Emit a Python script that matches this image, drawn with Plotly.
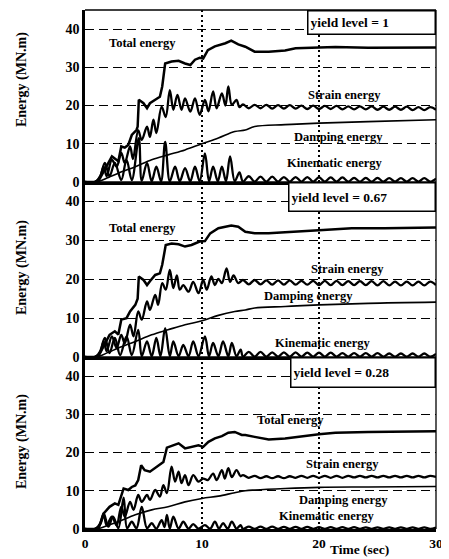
import numpy as np
import plotly.graph_objects as go
from plotly.subplots import make_subplots

# ---------------- data ----------------
YIELD_LABELS = ["yield level = 1", "yield level = 0.67", "yield level = 0.28"]
X_TICKS = [0, 10, 20, 30]
Y_TICKS = [0, 10, 20, 30, 40]

# late-time sampling grid for the small residual oscillations (every 0.5 s)
T_LATE = list(np.arange(13.5, 30.01, 0.5))

# ---- panel 1 : yield level = 1
TOTAL1_T = [0, 0.8, 1.2, 1.7, 2.0, 2.3, 2.6, 2.85, 3.1, 3.4, 3.7, 4.0, 4.4, 4.5, 4.6, 5.0, 5.3, 5.55, 6.0, 6.4,
            6.6, 6.85, 7.4, 8.0, 8.55, 9.0, 9.4, 9.8, 10.1, 10.5, 11.1, 12.0, 12.5, 13.1, 13.7, 14.5, 15.7, 17.1, 18.0, 19.1,
            20, 21.4, 24.2, 27, 30]
TOTAL1_V = [0, 0, 0.5, 3.2, 5.0, 6.7, 6.0, 5.4, 9.3, 9.0, 9.7, 12.3, 13.6, 14.5, 21.5, 20.6, 19.3, 20.6, 21.5, 22.3,
            25, 31, 31.5, 31.7, 31, 30.6, 32, 32.5, 32.3, 34.5, 35.5, 36.3, 37, 36, 35.4, 34.1, 34.1, 34.4, 35, 35.1,
            35.1, 35.3, 35.1, 35.2, 35.2]
STRAIN1_T = [0, 0.9, 1.3, 1.6, 1.85, 2.3, 2.7, 3.1, 3.4, 3.85, 4.1, 4.55, 4.85, 5.3, 5.55, 5.85, 6.1, 6.55, 6.9, 7.25,
             7.55, 7.9, 8.25, 8.55, 9.0, 9.4, 9.8, 10.25, 10.55, 10.95, 11.25, 11.7, 12.0, 12.25, 12.55, 12.95, 13.2]
STRAIN1_V = [0, 0, 1.5, 4.0, 1.5, 5.8, 4.0, 7.6, 5.0, 9.3, 6.0, 13.5, 11.0, 14.5, 11.8, 16.3, 12.8, 19.7, 17.0, 24.0,
             18.9, 22.8, 18.9, 21.9, 18.4, 21.9, 17.6, 21.5, 18.5, 23.7, 19.3, 23.2, 20.0, 25.0, 20.2, 21.5, 19.6]
STRAIN1_LATE = [20.3, 19.3, 20.2, 19.3, 20.2, 19.2, 20.1, 19.2, 20.1, 19.2, 20.0, 19.1, 20.0, 19.1, 19.9, 19.1, 19.9,
                19.0, 19.8, 19.0, 19.8, 19.0, 19.8, 18.9, 19.7, 18.9, 19.7, 18.9, 19.7, 18.8, 19.6, 18.8, 19.6, 18.9]
DAMP1_T = [0, 1.0, 2.0, 2.85, 4.3, 5.7, 7.1, 8.55, 10, 11.4, 12.8, 13.7, 14.5, 17.1, 20, 24.2, 30]
DAMP1_V = [0, 0, 1.2, 2.3, 4.0, 5.8, 7.1, 8.4, 10.0, 11.5, 13.2, 13.6, 14.5, 15.0, 15.4, 15.8, 16.3]
KIN1_T = [0, 0.9, 1.3, 1.7, 2.1, 2.55, 3.1, 3.55, 4.0, 4.6, 4.85, 5.3, 5.7, 6.1, 6.5, 6.85, 7.25, 7.7, 8.1, 8.55,
          9.0, 9.4, 9.8, 10.25, 10.6, 10.95, 11.35, 11.7, 12.05, 12.4, 12.8, 13.2]
KIN1_V = [0, 0, 1.5, 5.0, 1.5, 5.0, 0.5, 5.8, 0.5, 11.5, 0.3, 5.0, 0.2, 4.0, 0.2, 10.5, 0.2, 4.0, 0.2, 3.6,
          0.2, 4.0, 0.2, 7.5, 0.2, 4.0, 0.2, 4.0, 0.2, 6.7, 0.2, 2.5]
KIN1_LATE = [0.1, 1.5, 0.1, 1.4, 0.1, 1.4, 0.1, 1.3, 0.1, 1.3, 0.1, 1.3, 0.1, 1.2, 0.1, 1.2, 0.1,
             1.2, 0.1, 1.1, 0.1, 1.1, 0.1, 1.1, 0.1, 1.0, 0.1, 1.0, 0.1, 1.0, 0.1, 1.0, 0.1, 0.9]

# ---- panel 2 : yield level = 0.67
TOTAL2_T = [0, 0.8, 1.2, 1.7, 2.1, 2.55, 2.85, 3.1, 3.55, 3.85, 4.3, 4.5, 4.6, 5.0, 5.3, 5.55, 6.0, 6.4, 6.6, 6.9,
            7.4, 8.0, 8.55, 9.1, 9.8, 10.25, 10.7, 11.4, 12.0, 12.5, 13.1, 13.7, 14.5, 15.7, 17.1, 18.5, 20, 22.8, 25.6, 30]
TOTAL2_V = [0, 0, 0.5, 3.6, 5.7, 6.6, 5.8, 9.6, 10.0, 11.7, 13.4, 15.0, 20.7, 19.8, 18.5, 19.5, 21.1, 21.5, 23.7, 28.8,
            29.2, 29.0, 28.4, 28.8, 29.7, 29.8, 31.8, 33.1, 33.5, 33.8, 33.5, 32.2, 31.8, 31.8, 32.1, 32.4, 32.6, 33.1, 33.1, 33.3]
STRAIN2_T = [0, 0.9, 1.3, 1.6, 1.85, 2.3, 2.7, 3.1, 3.4, 3.85, 4.15, 4.55, 4.85, 5.3, 5.55, 6.0, 6.25, 6.6, 6.9, 7.25,
             7.55, 7.85, 8.1, 8.4, 8.85, 9.25, 9.7, 10.1, 10.4, 10.8, 11.1, 11.4, 11.7, 12.1, 12.4, 12.7, 13.1]
STRAIN2_V = [0, 0, 1.2, 4.0, 1.5, 5.3, 2.3, 5.7, 3.5, 8.3, 5.3, 11.7, 9.6, 14.3, 12.1, 16.0, 13.4, 19.0, 17.3, 22.4,
             17.7, 21.0, 17.3, 18.5, 16.8, 19.3, 16.4, 19.8, 17.3, 20.7, 18.5, 20.1, 19.0, 22.8, 19.3, 21.0, 19.0]
STRAIN2_LATE = [19.8, 18.7, 19.8, 18.7, 19.7, 18.6, 19.7, 18.6, 19.7, 18.6, 19.6, 18.6, 19.6, 18.5, 19.6, 18.5, 19.6,
                18.5, 19.5, 18.5, 19.5, 18.5, 19.5, 18.4, 19.5, 18.4, 19.4, 18.4, 19.4, 18.4, 19.4, 18.4, 19.4, 18.5]
DAMP2_T = [0, 1.0, 2.0, 2.85, 4.3, 5.7, 7.1, 8.55, 10, 11.4, 12.8, 13.7, 14.5, 17.1, 20, 24.2, 30]
DAMP2_V = [0, 0, 1.2, 2.3, 4.0, 5.7, 7.0, 8.3, 9.3, 10.7, 11.7, 12.1, 12.6, 13.0, 13.4, 13.8, 14.1]
KIN2_T = [0, 0.9, 1.3, 1.7, 2.1, 2.55, 3.0, 3.55, 4.0, 4.55, 4.85, 5.3, 5.7, 6.1, 6.45, 6.85, 7.25, 7.55, 8.0, 8.4,
          8.85, 9.25, 9.7, 10.25, 10.6, 10.95, 11.4, 11.8, 12.25, 12.55, 12.95, 13.3]
KIN2_V = [0, 0, 1.5, 4.9, 1.0, 4.9, 0.5, 5.3, 0.5, 7.0, 0.2, 4.0, 0.2, 4.9, 0.2, 7.4, 0.2, 4.0, 0.2, 3.1,
          0.2, 4.0, 0.2, 5.3, 0.2, 3.6, 0.2, 4.0, 0.2, 3.6, 0.2, 1.9]
KIN2_LATE = [0.1, 1.3, 0.1, 1.3, 0.1, 1.2, 0.1, 1.2, 0.1, 1.2, 0.1, 1.1, 0.1, 1.1, 0.1, 1.1, 0.1,
             1.0, 0.1, 1.0, 0.1, 1.0, 0.1, 1.0, 0.1, 0.9, 0.1, 0.9, 0.1, 0.9, 0.1, 0.9, 0.1, 0.8]

# ---- panel 3 : yield level = 0.28
TOTAL3_T = [0, 0.8, 1.2, 1.6, 2.1, 2.55, 2.85, 3.3, 3.7, 4.0, 4.3, 4.55, 4.8, 5.1, 5.55, 6.0, 6.4, 6.7, 7.0, 7.4,
            8.0, 8.55, 9.1, 9.7, 10.1, 10.55, 11.1, 11.7, 12.25, 12.8, 13.4, 13.7, 14.5, 15.7, 17.1, 18.5, 20, 21.4, 24.2, 30]
TOTAL3_V = [0, 0, 0.5, 4.1, 5.8, 6.7, 6.3, 10.6, 10.2, 11.0, 11.4, 12.8, 16.7, 15.4, 15.0, 15.9, 16.7, 17.5, 21.3, 21.7,
            22.4, 21.1, 21.5, 21.9, 21.5, 22.8, 23.7, 24.3, 25.2, 25.4, 24.6, 24.6, 24.1, 23.4, 23.7, 24.3, 24.8, 25.2, 25.4, 25.6]
STRAIN3_T = [0, 0.9, 1.3, 1.6, 1.85, 2.3, 2.7, 3.1, 3.4, 3.85, 4.15, 4.55, 4.85, 5.3, 5.55, 6.0, 6.4, 6.7, 7.0, 7.4,
             7.7, 8.0, 8.25, 8.55, 8.85, 9.25, 9.7, 10.1, 10.5, 10.95, 11.25, 11.7, 11.95, 12.25, 12.55, 12.95, 13.3]
STRAIN3_V = [0, 0, 1.2, 3.7, 1.0, 3.2, 1.0, 5.8, 3.2, 7.1, 5.0, 8.9, 7.1, 8.9, 7.6, 10.2, 8.5, 11.5, 9.4, 16.3,
             12.4, 15.0, 12.0, 14.1, 11.5, 14.1, 12.4, 13.2, 12.8, 14.5, 12.8, 15.4, 13.2, 15.9, 13.6, 15.4, 13.8]
STRAIN3_LATE = [14.1, 13.4, 13.9, 13.3, 13.8, 13.3, 13.8, 13.3, 13.8, 13.4, 13.9, 13.4, 13.9, 13.4, 13.9, 13.4, 13.9,
                13.4, 13.9, 13.5, 13.9, 13.5, 13.9, 13.5, 13.9, 13.5, 13.9, 13.5, 13.9, 13.5, 13.9, 13.5, 13.9, 13.6]
DAMP3_T = [0, 1.0, 2.0, 2.85, 4.3, 5.7, 7.1, 8.55, 10, 11.4, 12.8, 13.7, 14.5, 17.1, 20, 24.2, 30]
DAMP3_V = [0, 0, 1.0, 1.9, 3.7, 5.0, 5.8, 7.1, 8.0, 8.6, 9.5, 10.0, 10.2, 10.6, 10.9, 11.0, 11.1]
KIN3_T = [0, 0.9, 1.3, 1.6, 2.0, 2.4, 2.85, 3.3, 3.6, 4.0, 4.4, 4.85, 5.3, 5.7, 6.1, 6.55, 6.8, 7.0, 7.25, 7.55,
          8.0, 8.4, 8.85, 9.25, 9.7, 10.25, 10.7, 11.1, 11.45, 11.8, 12.2, 12.55, 12.95, 13.3]
KIN3_V = [0, 0, 1.5, 4.1, 0.6, 3.2, 0.2, 8.2, 0.2, 1.9, 0.2, 5.8, 0.2, 1.5, 0.1, 2.3, 0.5, 3.7, 0.1, 3.2,
          0.1, 1.9, 0.1, 1.3, 0.1, 1.0, 0.1, 1.9, 0.1, 1.5, 0.1, 1.9, 0.1, 1.0]
KIN3_LATE = [0.05, 0.6, 0.05, 0.6, 0.05, 0.6, 0.05, 0.55, 0.05, 0.55, 0.05, 0.55, 0.05, 0.5, 0.05, 0.5, 0.05,
             0.5, 0.05, 0.5, 0.05, 0.45, 0.05, 0.45, 0.05, 0.45, 0.05, 0.45, 0.05, 0.4, 0.05, 0.4, 0.05, 0.4]

# in-panel curve labels: (text, time, energy)
LABELS = [
    [("Total energy", 4.9, 36.4), ("Strain energy", 22.2, 22.8), ("Damping energy", 21.7, 11.8), ("Kinematic energy", 21.4, 5.0)],
    [("Total energy", 4.9, 33.1), ("Strain energy", 22.4, 22.6), ("Damping energy", 19.1, 15.6), ("Kinematic energy", 20.3, 3.6)],
    [("Total energy", 17.6, 28.4), ("Strain energy", 22.05, 17.1), ("Damping energy", 22.1, 7.6), ("Kinematic energy", 20.7, 3.4)],
]

PANELS = [
    dict(total=(TOTAL1_T, TOTAL1_V), strain=(STRAIN1_T + T_LATE, STRAIN1_V + STRAIN1_LATE),
         damp=(DAMP1_T, DAMP1_V), kin=(KIN1_T + T_LATE, KIN1_V + KIN1_LATE)),
    dict(total=(TOTAL2_T, TOTAL2_V), strain=(STRAIN2_T + T_LATE, STRAIN2_V + STRAIN2_LATE),
         damp=(DAMP2_T, DAMP2_V), kin=(KIN2_T + T_LATE, KIN2_V + KIN2_LATE)),
    dict(total=(TOTAL3_T, TOTAL3_V), strain=(STRAIN3_T + T_LATE, STRAIN3_V + STRAIN3_LATE),
         damp=(DAMP3_T, DAMP3_V), kin=(KIN3_T + T_LATE, KIN3_V + KIN3_LATE)),
]

# ---------------- figure ----------------
SERIF = "Liberation Serif"
# the page body has an 8px margin, so the figure is shrunk/offset to land where the reference is
W, H = 441, 551
ML, MR, MT, MB = 77, 13, 2, 30
PW, PH = W - ML - MR, H - MT - MB  # 351 x 519
PLOT_LEFT, PLOT_TOP = 85, 10       # page pixels of the plot area's corner

fig = make_subplots(rows=3, cols=1, shared_xaxes=True, vertical_spacing=0,
                    row_heights=[172, 175, 172])

TITLE_CENTERS = [80, 268, 442]   # page y of each "Energy (MN.m)" title

for i, p in enumerate(PANELS):
    row = i + 1
    for key, width, shape in [("damp", 1.6, "spline"), ("kin", 2.3, "spline"),
                              ("strain", 2.3, "spline"), ("total", 2.5, "linear")]:
        t, v = p[key]
        fig.add_trace(go.Scatter(x=t, y=v, mode="lines", showlegend=False,
                                 line=dict(color="black", width=width, shape=shape,
                                           smoothing=1.0 if shape == "spline" else None)),
                      row=row, col=1)
    sfx = "" if row == 1 else str(row)
    for text, tx, ty in LABELS[i]:
        fig.add_annotation(x=tx, y=ty, xref="x" + sfx, yref="y" + sfx, text="<b>" + text + "</b>",
                           xanchor="center", yanchor="middle",
                           showarrow=False, font=dict(family=SERIF, size=12.5, color="black"))
    # yield-level box
    widths = [122, 141, 139]
    heights = [18, 23, 24]
    fig.add_annotation(x=1, y=1, xref="x" + sfx + " domain", yref="y" + sfx + " domain",
                       xanchor="right", yanchor="top", text="<b>" + YIELD_LABELS[i] + "</b>",
                       showarrow=False, align="left", width=widths[i], height=heights[i],
                       bgcolor="white", bordercolor="black", borderwidth=1.5, borderpad=2,
                       font=dict(family=SERIF, size=13.5, color="black"))
    # thin top and right frame lines
    fig.add_shape(type="line", xref="x" + sfx + " domain", yref="y" + sfx + " domain",
                  x0=1, x1=1, y0=0, y1=1, line=dict(color="black", width=1.3))
    fig.add_shape(type="line", xref="x" + sfx + " domain", yref="y" + sfx + " domain",
                  x0=0, x1=1, y0=1, y1=1, line=dict(color="black", width=1.3))
    # y-axis title
    fig.add_annotation(x=(22 - PLOT_LEFT) / PW, y=1 - (TITLE_CENTERS[i] - PLOT_TOP) / PH,
                       xref="paper", yref="paper", xanchor="center", yanchor="middle",
                       text="<b>Energy (MN.m)</b>", textangle=-90, showarrow=False,
                       font=dict(family=SERIF, size=14, color="black"))

fig.update_yaxes(range=[0, 45], tickvals=Y_TICKS, showline=True, linecolor="black", linewidth=2.5,
                 ticks="", showgrid=True, gridcolor="black", gridwidth=1, griddash="9px,5px",
                 zeroline=False, tickfont=dict(family=SERIF, size=14, color="black", weight="bold"))
fig.update_xaxes(range=[0, 30], tickvals=X_TICKS, showline=True, linecolor="black", linewidth=2.5,
                 ticks="", showgrid=True, gridcolor="black", gridwidth=2, griddash="2px,3px",
                 zeroline=False,
                 tickfont=dict(family=SERIF, size=13.5, color="black", weight="bold"))

fig.add_annotation(x=(359 - PLOT_LEFT) / PW, y=-29 / PH, xref="paper", yref="paper",
                   xanchor="center", yanchor="bottom",
                   text="<b>Time (sec)</b>", showarrow=False, borderpad=0,
                   font=dict(family=SERIF, size=13.5, color="black"))

fig.update_layout(width=W, height=H, margin=dict(l=ML, r=MR, t=MT, b=MB),
                  paper_bgcolor="white", plot_bgcolor="white", showlegend=False)

fig.write_html("out.html")
